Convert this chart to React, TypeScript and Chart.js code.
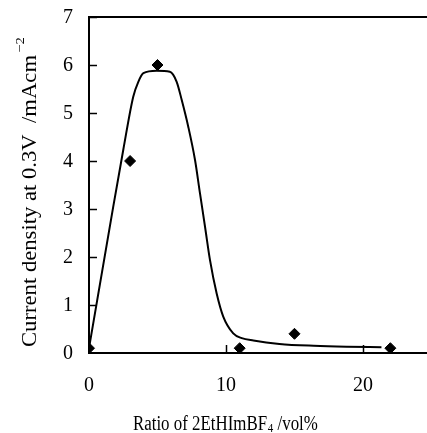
import React, { useEffect, useRef } from "react";
import { Chart, registerables } from "chart.js";

Chart.register(...registerables);

const pointX = [0, 3, 5, 11, 15, 22];
const pointY = [0.1, 4, 6, 0.1, 0.4, 0.1];
const curveX = [0, 1.77, 2.5, 3.23, 3.6, 3.97, 4.93, 5.9, 6.4, 6.77, 7.25, 7.74, 8.1, 8.47, 8.83, 9.32, 9.8, 10.53, 11.15, 12, 13.9, 16.4, 18.8, 21.35];
const curveY = [0.1, 3.05, 4.23, 5.34, 5.65, 5.83, 5.88, 5.86, 5.65, 5.27, 4.71, 4.02, 3.33, 2.63, 1.94, 1.24, 0.76, 0.41, 0.31, 0.26, 0.19, 0.15, 0.13, 0.12];
const xTicks = [0, 10, 20];
const yTicks = [0, 1, 2, 3, 4, 5, 6, 7];
const xTitleMain = "Ratio of 2EtHImBF";
const xTitleSub = "4";
const xTitleEnd = " /vol%";
const yTitleMain = "Current density at 0.3V  /mAcm";
const yTitleSup = "\u22122";

const FONT = "'Liberation Serif', 'DejaVu Serif', serif";

const frame = {
  id: "frame",
  afterDraw(chart: any) {
    const { ctx, chartArea, scales } = chart;
    const xs = scales.x;
    const ys = scales.y;
    const edge = chart.width;
    ctx.save();
    ctx.setTransform(1, 0, 0, 1, 0, 0);
    ctx.strokeStyle = "#000";
    ctx.fillStyle = "#000";
    ctx.lineWidth = 2;
    ctx.beginPath();
    ctx.moveTo(chartArea.left - 1, chartArea.top);
    ctx.lineTo(edge, chartArea.top);
    ctx.moveTo(chartArea.left - 1, chartArea.bottom);
    ctx.lineTo(edge, chartArea.bottom);
    ctx.stroke();
    ctx.lineWidth = 1.5;
    for (const v of yTicks) {
      if (v === 0) continue;
      const y = Math.round(ys.getPixelForValue(v)) + 0.5;
      ctx.beginPath();
      ctx.moveTo(chartArea.left, y);
      ctx.lineTo(chartArea.left + 8, y);
      ctx.stroke();
    }
    for (const v of xTicks) {
      if (v === 0) continue;
      const x = Math.round(xs.getPixelForValue(v)) + 0.5;
      ctx.beginPath();
      ctx.moveTo(x, chartArea.bottom);
      ctx.lineTo(x, chartArea.bottom - 8);
      ctx.stroke();
    }

    const big = "20px " + FONT;
    const small = "13px " + FONT;

    // tick labels
    ctx.font = big;
    ctx.textAlign = "right";
    ctx.textBaseline = "middle";
    for (const v of yTicks) {
      ctx.fillText(String(v), 73, ys.getPixelForValue(v) + 1);
    }
    ctx.textAlign = "center";
    for (const v of xTicks) {
      ctx.fillText(String(v), xs.getPixelForValue(v), 386);
    }

    // x title
    ctx.textBaseline = "alphabetic";
    ctx.textAlign = "left";
    ctx.font = big;
    const w1 = ctx.measureText(xTitleMain).width;
    const w3 = ctx.measureText(xTitleEnd).width;
    ctx.font = small;
    const w2 = ctx.measureText(xTitleSub).width;
    const total = w1 + w2 + w3;
    const sx = 184 / total;
    ctx.save();
    ctx.translate(133, 430);
    ctx.scale(sx, 1);
    ctx.font = big;
    ctx.fillText(xTitleMain, 0, 0);
    ctx.font = small;
    ctx.fillText(xTitleSub, w1 + 1, 2);
    ctx.font = big;
    ctx.fillText(xTitleEnd, w1 + w2 + 1, 0);
    ctx.restore();

    // y title
    ctx.font = big;
    const m = ctx.measureText(yTitleMain).width;
    const sy = 292 / m;
    ctx.save();
    ctx.translate(36, 347);
    ctx.rotate(-Math.PI / 2);
    ctx.scale(sy, 1);
    ctx.fillText(yTitleMain, 0, 0);
    ctx.font = small;
    ctx.fillText(yTitleSup, m + 2, -12);
    ctx.restore();

    ctx.restore();
  },
};

export default function App() {
  const ref = useRef<HTMLCanvasElement>(null);
  useEffect(() => {
    const chart = new Chart(ref.current!, {
      type: "scatter",
      data: {
        datasets: [
          {
            data: curveX.map((x, i) => ({ x, y: curveY[i] })),
            showLine: true,
            borderColor: "#000",
            borderWidth: 2,
            pointRadius: 0,
            cubicInterpolationMode: "monotone",
          } as any,
          {
            data: pointX.map((x, i) => ({ x, y: pointY[i] })),
            pointStyle: "rectRot",
            pointRadius: 5.5,
            backgroundColor: "#000",
            borderColor: "#000",
            showLine: false,
          },
        ],
      },
      options: {
        animation: false,
        responsive: false,
        layout: { padding: { top: 17, right: 0, left: 0, bottom: 0 } },
        plugins: { legend: { display: false }, tooltip: { enabled: false } },
        scales: {
          x: {
            type: "linear",
            min: 0,
            max: 24.2,
            afterBuildTicks: (s: any) => {
              s.ticks = xTicks.map((v) => ({ value: v }));
            },
            afterFit: (s: any) => {
              s.height = 80;
              s.paddingLeft = 0;
              s.paddingRight = 0;
            },
            grid: { display: false, drawTicks: false },
            border: { display: false },
            ticks: { display: false },
          },
          y: {
            type: "linear",
            min: 0,
            max: 7,
            afterBuildTicks: (s: any) => {
              s.ticks = yTicks.map((v) => ({ value: v }));
            },
            afterFit: (s: any) => {
              s.width = 89;
              s.paddingTop = 0;
              s.paddingBottom = 0;
            },
            grid: { display: false, drawTicks: false },
            border: { display: true, color: "#000", width: 2 },
            ticks: { display: false },
          },
        },
      },
      plugins: [frame],
    });
    return () => chart.destroy();
  }, []);
  return (
    <div style={{ position: "fixed", left: 0, top: 0, width: 427, height: 433, background: "#fff" }}>
      <canvas ref={ref} width={427} height={433} style={{ width: 427, height: 433 }} />
    </div>
  );
}
